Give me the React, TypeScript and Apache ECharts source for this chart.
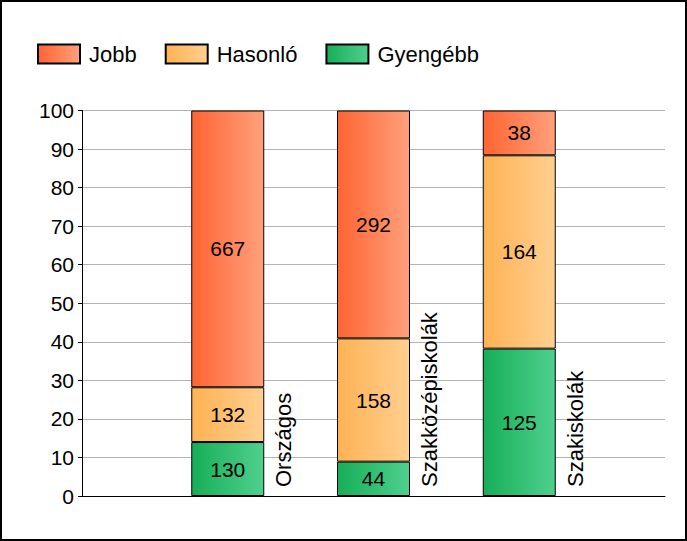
import React, { useEffect, useRef } from "react";
import * as echarts from "echarts";

const categories = ["", "Országos", "Szakközépiskolák", "Szakiskolák", ""];
const seriesNames = ["Jobb", "Hasonló", "Gyengébb"];
const gyengebbCounts = [null, 130, 44, 125, null];
const hasonloCounts = [null, 132, 158, 164, null];
const jobbCounts = [null, 667, 292, 38, null];
const yTicks = { min: 0, max: 100, interval: 10 };

const FONT = "Arial, 'Liberation Sans', sans-serif";

function grad(a: string, b: string) {
  return new echarts.graphic.LinearGradient(0, 0, 1, 0, [
    { offset: 0, color: a },
    { offset: 1, color: b },
  ]);
}

export default function App() {
  const ref = useRef<HTMLDivElement>(null);
  useEffect(() => {
    if (!ref.current) return;
    const chart = echarts.init(ref.current, null, { renderer: "svg" });
    const totals = categories.map((_, i) =>
      jobbCounts[i] == null ? null : (jobbCounts[i] as number) + (hasonloCounts[i] as number) + (gyengebbCounts[i] as number)
    );
    const pct = (arr: (number | null)[]) =>
      arr.map((v, i) => (v == null ? null : { value: (v / (totals[i] as number)) * 100, count: v }));

    const mkBar = (name: string, counts: (number | null)[], c1: string, c2: string) => ({
      name,
      type: "bar",
      stack: "s",
      barWidth: 73,
      data: pct(counts),
      itemStyle: { color: grad(c1, c2), borderColor: "#000", borderWidth: 1 },
      label: {
        show: true,
        position: "inside",
        formatter: (p: any) => String(p.data.count),
        color: "#000",
        fontSize: 21,
        fontFamily: FONT,
      },
    });

    chart.setOption({
      animation: false,
      legend: {
        data: ["Jobb", "Hasonló", "Gyengébb"],
        left: 35,
        top: 41,
        padding: 0,
        itemWidth: 42,
        itemHeight: 19,
        itemGap: 28,
        icon: "rect",
        textStyle: { fontSize: 22, fontFamily: FONT, color: "#000", padding: [0, 0, 0, 4] },
      },
      grid: { left: 80, right: 20, top: 108.5, bottom: 43 },
      xAxis: {
        type: "category",
        data: categories,
        boundaryGap: false,
        axisLine: { lineStyle: { color: "#000", width: 1 } },
        axisTick: { show: false },
        axisLabel: { show: false },
        splitLine: { show: false },
      },
      yAxis: {
        type: "value",
        min: yTicks.min,
        max: yTicks.max,
        interval: yTicks.interval,
        axisLine: { show: true, lineStyle: { color: "#000", width: 1 } },
        axisTick: { show: true, length: 4, lineStyle: { color: "#000" } },
        axisLabel: { fontSize: 21, fontFamily: FONT, color: "#000", margin: 8 },
        splitLine: { lineStyle: { color: "#b4b4b4", width: 1 } },
      },
      series: [
        mkBar(seriesNames[2], gyengebbCounts, "#17ae58", "#4fd08e"),
        mkBar(seriesNames[1], hasonloCounts, "#ffb254", "#ffcf8f"),
        mkBar(seriesNames[0], jobbCounts, "#ff6432", "#ffa07c"),
        {
          type: "custom",
          silent: true,
          data: categories.map((c, i) => [i, 0]).filter((d) => categories[d[0]] !== ""),
          renderItem: (params: any, api: any) => {
            const idx = api.value(0);
            const pt = api.coord([idx, 0]);
            return {
              type: "text",
              x: pt[0] + 56,
              y: pt[1] - 9,
              rotation: Math.PI / 2,
              style: {
                text: categories[idx],
                fill: "#000",
                font: `22px ${FONT}`,
                align: "left",
                verticalAlign: "middle",
              },
            };
          },
        },
      ],
    });
    return () => chart.dispose();
  }, []);

  return (
    <div
      style={{
        position: "fixed",
        left: 0,
        top: 0,
        width: 687,
        height: 541,
        boxSizing: "border-box",
        border: "2px solid #000",
        background: "#fff",
      }}
    >
      <div ref={ref} style={{ width: 683, height: 537 }} />
    </div>
  );
}
